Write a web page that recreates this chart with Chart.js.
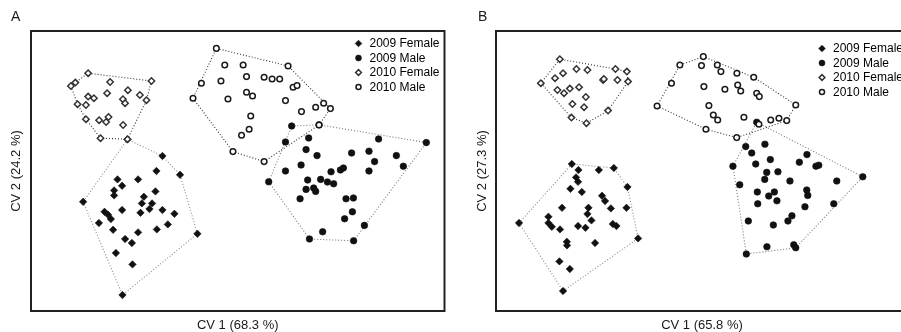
<!DOCTYPE html>
<html>
<head>
<meta charset="utf-8">
<script src="https://cdn.jsdelivr.net/npm/chart.js@4.4.1/dist/chart.umd.min.js"></script>
<style>
html, body { margin: 0; padding: 0; background: #fff; overflow: hidden; width: 901px; height: 332px; }
#wrapA { position: absolute; left: 0; top: 0; width: 450px; height: 332px; }
#wrapB { position: absolute; left: 450px; top: 0; width: 470px; height: 332px; }
</style>
</head>
<body>
<div id="wrapA"><canvas id="chartA" width="450" height="332"></canvas></div>
<div id="wrapB"><canvas id="chartB" width="470" height="332"></canvas></div>
<script>
// labels
const groupLabels = ['2009 Female', '2009 Male', '2010 Female', '2010 Male'];
const panelLabels = ['A', 'B'];
const xTitles = ['CV 1 (68.3 %)', 'CV 1 (65.8 %)'];
const yTitles = ['CV 2 (24.2 %)', 'CV 2 (27.3 %)'];

// panel A canonical scores, [CV1, CV2]
const aFemale2009 = [[-3.77,0.75],[-4.07,0],[-2.89,-0.19],[-6.02,-0.42],[-4.99,-0.42],[-5.79,-0.74],
  [-6.19,-0.97],[-6.19,-1.22],[-4.12,-1.02],[-4.7,-1.29],[-4.8,-1.62],[-4.29,-1.62],[-4.42,-1.9],
  [-7.74,-1.54],[-5.79,-1.95],[-6.67,-2.04],[-6.49,-2.19],[-6.35,-2.4],[-4.87,-2.09],[-3.77,-1.95],
  [-3.17,-2.14],[-6.95,-2.6],[-3.5,-2.67],[-6.24,-2.94],[-4.99,-3.07],[-4.05,-2.92],[-5.64,-3.4],
  [-5.3,-3.6],[-2.02,-3.14],[-6.1,-4.1],[-5.27,-4.67],[-5.77,-6.2],[-5.52,1.58]];
const aMale2009 = [[2.7,2.25],[3.55,1.65],[7.05,1.6],[9.44,1.42],[2.39,1.45],[3.42,1.07],[3.97,0.77],
  [5.7,0.9],[6.57,0.99],[7.94,0.77],[3.17,0.3],[6.85,0.47],[8.29,0.24],[2.39,0],[4.67,-0.04],
  [5.14,0.05],[5.29,0.15],[6.57,0],[1.55,-0.54],[3.5,-0.45],[4.15,-0.42],[4.49,-0.55],[4.8,-0.64],
  [3.42,-0.92],[3.8,-0.85],[3.9,-1.02],[3.12,-1.39],[5.42,-1.39],[5.79,-1.35],[5.74,-2.04],
  [5.35,-2.39],[6.34,-2.72],[4.25,-3.04],[3.59,-3.4],[5.8,-3.49],[4.07,2.31]];
const aFemale2010 = [[-8.35,4.25],[-8.13,4.42],[-7.49,4.89],[-4.32,4.5],[-6.39,4.45],[-6.54,3.89],
  [-5.5,4.04],[-4.9,3.8],[-4.57,3.54],[-8.02,3.34],[-7.6,3.3],[-7.49,3.72],[-7.2,3.64],[-5.75,3.59],
  [-5.64,3.39],[-7.6,2.59],[-6.94,2.54],[-6.59,2.45],[-6.47,2.7],[-5.74,2.3],[-6.87,1.64],[-5.52,1.59]];
const aMale2010 = [[-1.07,6.13],[-0.65,5.3],[0.27,5.3],[2.52,5.25],[-1.82,4.39],[-0.84,4.5],[0.44,4.72],
  [1.32,4.69],[1.72,4.6],[2.1,4.6],[2.77,4.19],[2.97,4.27],[-2.24,3.64],[-0.49,3.6],[0.44,3.94],
  [0.74,3.75],[2.39,3.52],[3.9,3.19],[4.3,3.39],[4.64,3.12],[3.19,2.97],[0.65,2.75],[0.57,2.09],
  [0.19,1.79],[4.07,2.3],[-0.24,0.97],[1.32,0.47]];

// panel B canonical scores, [CV1, CV2]
const bFemale2009 = [[-6.5,0.35],[-6.17,0.05],[-5.15,0.05],[-4.4,0.15],[-6.29,-0.32],[-6.19,-0.54],
  [-3.72,-0.8],[-6.57,-0.89],[-6,-1.05],[-4.99,-1.24],[-4.84,-1.5],[-6.99,-1.84],[-5.67,-1.84],
  [-4.55,-1.87],[-3.77,-1.84],[-7.67,-2.29],[-5.72,-2.15],[-7.67,-2.6],[-7.5,-2.79],[-5.52,-2.47],
  [-7.09,-2.92],[-6.19,-2.75],[-5.82,-2.84],[-4.45,-2.65],[-4.27,-2.75],[-9.14,-2.6],[-3.19,-3.37],
  [-6.75,-3.54],[-6.74,-3.72],[-5.34,-3.6],[-7.12,-4.52],[-6.6,-4.9],[-6.94,-6]];
const bMale2009 = [[2.74,2.44],[2.19,1.22],[3.15,1.34],[2.49,0.9],[5.25,0.82],[1.55,0.24],[2.69,0.35],
  [3.42,0.57],[4.87,0.44],[5.7,0.24],[5.84,0.29],[8.04,-0.29],[3.24,-0.07],[3.8,-0.04],[3.14,-0.42],
  [4.4,-0.5],[1.89,-0.69],[6.74,-0.5],[2.77,-1.05],[3.62,-1.05],[3.34,-1.25],[3.75,-1.49],
  [2.79,-1.64],[5.24,-0.95],[5.29,-1.22],[5.15,-1.79],[6.59,-1.64],[2.32,-2.5],[4.5,-2.24],
  [4.3,-2.5],[3.57,-2.7],[3.25,-3.79],[4.59,-3.69],[4.69,-3.84],[2.22,-4.15]];
const bFemale2010 = [[-7.1,5.59],[-8.05,4.39],[-7.34,4.64],[-6.94,4.89],[-6.27,5.1],[-5.72,5.05],
  [-4.32,5.1],[-3.75,4.97],[-4.94,4.55],[-4.9,4.6],[-4.22,4.55],[-3.69,4.47],[-7.22,4.05],
  [-6.89,3.89],[-6.6,4.12],[-6.14,4.19],[-5.8,3.7],[-6.47,3.35],[-5.89,3.19],[-4.69,3.02],
  [-6.52,2.67],[-5.77,2.39]];
const bMale2010 = [[0.07,5.72],[-1.1,5.3],[-0.02,5.27],[0.77,5.3],[0.95,4.97],[1.75,4.89],[2.59,4.69],
  [-1.52,4.39],[0.1,4.22],[1.15,4.09],[1.79,4.3],[1.94,4],[2.74,3.89],[2.87,3.72],[-2.24,3.25],
  [0.35,3.27],[4.69,3.3],[0.57,2.8],[0.79,2.55],[2.1,2.69],[2.85,2.34],[3.44,2.55],[3.85,2.64],
  [4.24,2.52],[0.2,2.09],[1.74,1.67]];

const groupStyles = [
  { pointStyle: 'rectRot', radius: 3.7, backgroundColor: '#111', borderColor: '#111', borderWidth: 0.6, hull: '#888' },
  { pointStyle: 'circle', radius: 3.3, backgroundColor: '#111', borderColor: '#111', borderWidth: 0.6, hull: '#777' },
  { pointStyle: 'rectRot', radius: 3.2, backgroundColor: '#fff', borderColor: '#333', borderWidth: 1.5, hull: '#333' },
  { pointStyle: 'circle', radius: 2.8, backgroundColor: '#fff', borderColor: '#1a1a1a', borderWidth: 1.5, hull: '#333' }
];

function hull(pts) {
  const p = pts.slice().sort((a, b) => a[0] - b[0] || a[1] - b[1]);
  const cross = (o, a, b) => (a[0] - o[0]) * (b[1] - o[1]) - (a[1] - o[1]) * (b[0] - o[0]);
  const lo = [], up = [];
  for (const q of p) {
    while (lo.length >= 2 && cross(lo[lo.length - 2], lo[lo.length - 1], q) <= 0) lo.pop();
    lo.push(q);
  }
  for (const q of p.slice().reverse()) {
    while (up.length >= 2 && cross(up[up.length - 2], up[up.length - 1], q) <= 0) up.pop();
    up.push(q);
  }
  lo.pop(); up.pop();
  const h = lo.concat(up);
  h.push(h[0]);
  return h;
}

const toXY = pts => pts.map(p => ({ x: p[0], y: p[1] }));

// frame, panel letter, axis titles and legend
const decor = {
  id: 'decor',
  afterDraw(chart, args, o) {
    const ctx = chart.ctx, a = chart.chartArea;
    ctx.save();
    ctx.strokeStyle = '#222';
    ctx.lineWidth = 2;
    ctx.strokeRect(a.left, a.top, a.right - a.left, a.bottom - a.top);

    ctx.fillStyle = '#1a1a1a';
    ctx.textBaseline = 'middle';
    ctx.font = '14px "Liberation Sans", Arial, sans-serif';
    ctx.textAlign = 'left';
    ctx.fillText(o.letter, o.letterX, 17.5);

    ctx.font = '13px "Liberation Sans", Arial, sans-serif';
    ctx.textAlign = 'center';
    ctx.fillText(o.xTitle, (a.left + a.right) / 2, 325);
    ctx.save();
    ctx.translate(o.yTitleX, (a.top + a.bottom) / 2);
    ctx.rotate(-Math.PI / 2);
    ctx.fillText(o.yTitle, 0, 0);
    ctx.restore();

    ctx.font = '12px "Liberation Sans", Arial, sans-serif';
    ctx.textAlign = 'left';
    groupLabels.forEach((lab, i) => {
      const s = groupStyles[i];
      const y = a.top + o.legendTop + i * 14.5;
      const mx = a.right - 86;
      ctx.fillStyle = s.backgroundColor;
      ctx.strokeStyle = s.borderColor;
      ctx.lineWidth = s.borderWidth;
      Chart.helpers.drawPoint(ctx, { pointStyle: s.pointStyle, radius: s.radius * 0.9, rotation: 0, borderWidth: s.borderWidth }, mx, y);
      ctx.fillStyle = '#000';
      ctx.fillText(lab, mx + 11, y + 0.5);
    });
    ctx.restore();
  }
};

function makePanel(id, groups, xr, pad, deco) {
  const datasets = [];
  groups.forEach((g, i) => {
    const s = groupStyles[i];
    datasets.push({
      label: groupLabels[i],
      data: toXY(g),
      pointStyle: s.pointStyle,
      pointRadius: s.radius,
      backgroundColor: s.backgroundColor,
      borderColor: s.borderColor,
      borderWidth: s.borderWidth,
      order: 3 - i
    });
  });
  groups.forEach((g, i) => {
    datasets.push({
      label: 'hull ' + groupLabels[i],
      data: toXY(hull(g)),
      showLine: true,
      pointRadius: 0,
      borderColor: groupStyles[i].hull,
      borderWidth: 1.1,
      borderDash: [1, 2],
      fill: false,
      tension: 0,
      order: 10 + i
    });
  });
  return new Chart(document.getElementById(id), {
    type: 'scatter',
    data: { datasets },
    options: {
      responsive: false,
      animation: false,
      events: [],
      layout: { padding: pad },
      scales: {
        x: { display: false, min: xr[0], max: xr[1] },
        y: { display: false, min: -7, max: 7 }
      },
      plugins: {
        legend: { display: false },
        tooltip: { enabled: false },
        decor: deco
      }
    },
    plugins: [decor]
  });
}

makePanel('chartA', [aFemale2009, aMale2009, aFemale2010, aMale2010], [-10.35, 10.35],
  { left: 31, right: 5, top: 31, bottom: 21 },
  { letter: panelLabels[0], letterX: 11, xTitle: xTitles[0], yTitle: yTitles[0], yTitleX: 16, legendTop: 12.5 });

makePanel('chartB', [bFemale2009, bMale2009, bFemale2010, bMale2010], [-10.29, 10.3],
  { left: 46, right: 12, top: 31, bottom: 21 },
  { letter: panelLabels[1], letterX: 28, xTitle: xTitles[1], yTitle: yTitles[1], yTitleX: 32, legendTop: 17.5 });
</script>
</body>
</html>
